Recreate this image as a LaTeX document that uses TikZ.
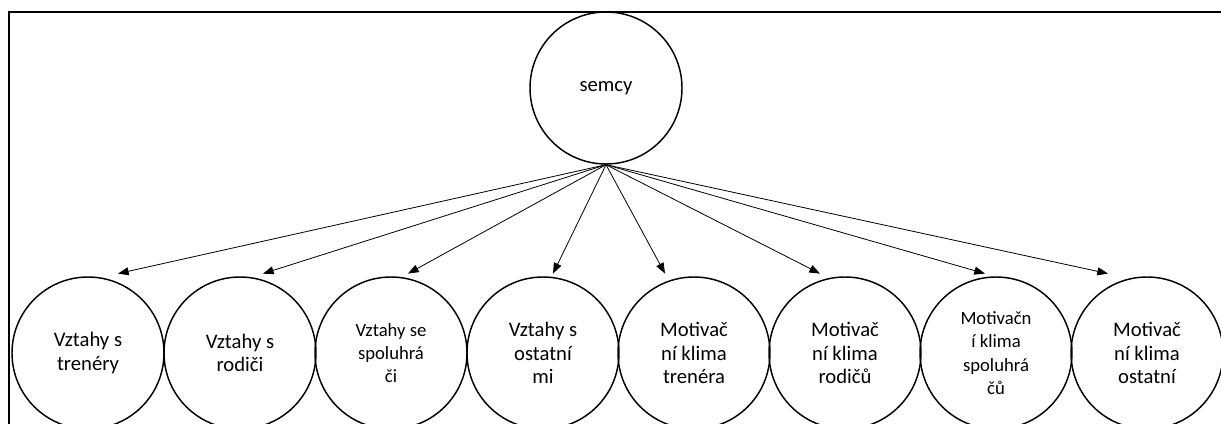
\documentclass[tikz,border=0pt]{standalone}
\usepackage{fontspec}
\setmainfont{Carlito}
\usetikzlibrary{arrows.meta}

\tikzset{
  kruh/.style={circle, draw, line width=1.1pt, minimum size=114pt, inner sep=0pt, align=center, font=\fontsize{15.5}{17.5}\selectfont},
  mensi/.style={font=\fontsize{14}{17.5}\selectfont},
  sipka/.style={-{Triangle[length=8pt,width=6pt]}, line width=0.6pt}
}

\begin{document}
\begin{tikzpicture}[x=0.75pt,y=0.75pt]
\useasboundingbox (0,0) rectangle (1221,-424);
\clip (0,0) rectangle (1221,-424);
\draw[line width=2pt] (9,-12) rectangle (1240,-440);

\node[kruh] (top) at (606,-88) {semcy};

\node[kruh] (k1) at (88,-353) {Vztahy s\\trenéry};
\node[kruh] (k2) at (240,-353) {Vztahy s\\rodiči};
\node[kruh, mensi] (k3) at (391,-353) {Vztahy se\\spoluhrá\\či};
\node[kruh] (k4) at (543,-353) {Vztahy s\\ostatní\\mi};
\node[kruh] (k5) at (694,-353) {Motivač\\ní klima\\trenéra};
\node[kruh] (k6) at (845,-353) {Motivač\\ní klima\\rodičů};
\node[kruh, mensi] (k7) at (996,-353) {Motivačn\\í klima\\spoluhrá\\čů};
\node[kruh] (k8) at (1147,-353) {Motivač\\ní klima\\ostatní};

\foreach \i/\dx in {1/30,2/23,3/17,4/10,5/-29,6/-25,7/-11,8/-39}
  \draw[sipka] (top.south) -- ([xshift=\dx*0.75pt, yshift=2pt]k\i.north);
\end{tikzpicture}
\end{document}
